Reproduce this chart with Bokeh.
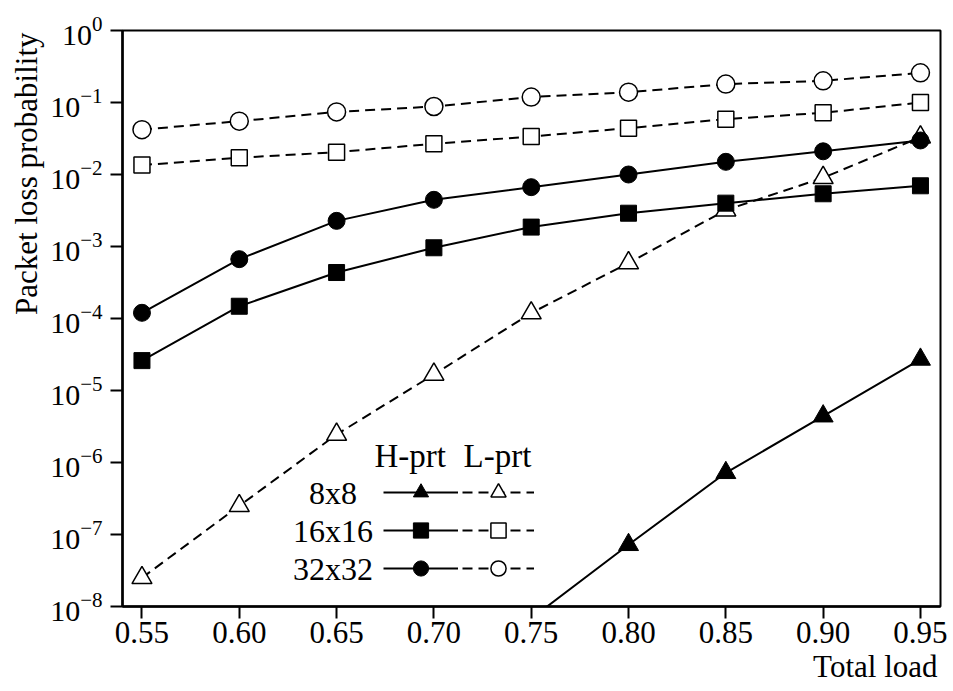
import math
from bokeh.plotting import figure
from bokeh.models import (Range1d, FixedTicker, NumeralTickFormatter, Label,
                          Legend, LegendItem, Title)
from bokeh.core.properties import value
from bokeh.embed import file_html
from bokeh.resources import INLINE

# ---------------- data ----------------
loads = [0.55, 0.60, 0.65, 0.70, 0.75, 0.80, 0.85, 0.90, 0.95]
loads_8x8_h = [0.75, 0.80, 0.85, 0.90, 0.95]

h_8x8 = [6.8e-9, 7.2e-8, 7.2e-7, 4.4e-6, 2.7e-5]
h_16x16 = [2.6e-5, 1.48e-4, 4.35e-4, 9.6e-4, 1.86e-3, 2.9e-3, 4.0e-3, 5.4e-3, 6.97e-3]
h_32x32 = [1.2e-4, 6.67e-4, 2.27e-3, 4.45e-3, 6.67e-3, 1.0e-2, 1.5e-2, 2.1e-2, 2.97e-2]

l_8x8 = [2.5e-8, 2.5e-7, 2.45e-6, 1.67e-5, 1.19e-4, 5.9e-4, 3.2e-3, 9.0e-3, 3.3e-2]
l_16x16 = [0.0135, 0.0171, 0.0204, 0.0267, 0.0337, 0.044, 0.0587, 0.0718, 0.1]
l_32x32 = [0.042, 0.055, 0.074, 0.088, 0.119, 0.139, 0.18, 0.20, 0.258]

x_ticks = [0.55, 0.60, 0.65, 0.70, 0.75, 0.80, 0.85, 0.90, 0.95]
y_ticks = [1e-8, 1e-7, 1e-6, 1e-5, 1e-4, 1e-3, 1e-2, 1e-1, 1.0]

size_labels = ["8x8", "16x16", "32x32"]
header_labels = ["H-prt", "L-prt"]
x_label = "Total load"
y_label = "Packet loss probability"

FONT = "Liberation Serif, Times New Roman, DejaVu Serif, serif"

# ---------------- figure ----------------
p = figure(frame_width=818, frame_height=576,
           x_range=Range1d(0.54, 0.9603), y_range=Range1d(1e-8, 1),
           y_axis_type="log", output_backend="svg", toolbar_location=None,
           min_border_left=122, min_border_top=30, min_border_bottom=85,
           min_border_right=13)
p.background_fill_color = "white"
p.border_fill_color = "white"
p.xgrid.visible = False
p.ygrid.visible = False
p.outline_line_color = "black"
p.outline_line_width = 2

for ax in (p.xaxis[0], p.yaxis[0]):
    ax.axis_line_color = "black"
    ax.axis_line_width = 2.5
    ax.major_tick_line_color = "black"
    ax.major_tick_line_width = 2
    ax.major_tick_out = 12
    ax.major_tick_in = 0
    ax.minor_tick_line_color = None
    ax.major_label_text_font = FONT
    ax.major_label_text_color = "black"

p.xaxis.major_label_text_font_size = "31px"
p.yaxis.major_label_text_font_size = "30px"
p.xaxis.ticker = FixedTicker(ticks=x_ticks)
p.xaxis.formatter = NumeralTickFormatter(format="0.00")
p.xaxis.major_label_standoff = 3
p.yaxis.ticker = FixedTicker(ticks=y_ticks)
p.yaxis.major_label_standoff = 8

# ---------------- series ----------------
dash = "10 6"
open_style = dict(fill_color="white", line_color="black", line_width=1.5)
solid_style = dict(fill_color="black", line_color="black")

# L-prt (dashed, open markers) first so H-prt markers sit on top
rl8 = p.line(loads, l_8x8, line_color="black", line_width=2, line_dash=dash)
sl8 = p.scatter(loads, l_8x8, marker="triangle", size=20, **open_style)
rl16 = p.line(loads, l_16x16, line_color="black", line_width=2, line_dash=dash)
sl16 = p.scatter(loads, l_16x16, marker="square", size=16, **open_style)
rl32 = p.line(loads, l_32x32, line_color="black", line_width=2, line_dash=dash)
sl32 = p.scatter(loads, l_32x32, marker="circle", size=18, **open_style)

rh8 = p.line(loads_8x8_h, h_8x8, line_color="black", line_width=2)
sh8 = p.scatter(loads_8x8_h, h_8x8, marker="triangle", size=20, **solid_style)
rh16 = p.line(loads, h_16x16, line_color="black", line_width=2)
sh16 = p.scatter(loads, h_16x16, marker="square", size=16, **solid_style)
rh32 = p.line(loads, h_32x32, line_color="black", line_width=2)
sh32 = p.scatter(loads, h_32x32, marker="circle", size=17, **solid_style)

# ---------------- legend ----------------
legend_common = dict(spacing=0, padding=0, margin=0, label_standoff=0,
                     label_width=0, label_height=0, glyph_height=38,
                     border_line_color=None, background_fill_alpha=0)
leg_h = Legend(items=[LegendItem(label=value(""), renderers=[rh8, sh8]),
                      LegendItem(label=value(""), renderers=[rh16, sh16]),
                      LegendItem(label=value(""), renderers=[rh32, sh32])],
               location=(261, 19), glyph_width=75, **legend_common)
leg_l = Legend(items=[LegendItem(label=value(""), renderers=[rl8, sl8]),
                      LegendItem(label=value(""), renderers=[rl16, sl16]),
                      LegendItem(label=value(""), renderers=[rl32, sl32])],
               location=(340, 19), glyph_width=72, **legend_common)
p.add_layout(leg_h)
p.add_layout(leg_l)

for i, name in enumerate(size_labels):
    p.add_layout(Label(x=210.5, y=114 - 38 * i, x_units="screen", y_units="screen",
                       text=name, text_align="center", text_baseline="middle",
                       text_font=FONT, text_font_size="32px", text_color="black"))

for i, name in enumerate(header_labels):
    p.add_layout(Label(x=252 + 89 * i, y=151, x_units="screen", y_units="screen",
                       text=name, text_align="left", text_baseline="alphabetic",
                       text_font=FONT, text_font_size="33px", text_color="black"))

# axis titles as side-panel titles
p.add_layout(Title(text=x_label, align="right", offset=3, standoff=3,
                   text_font=FONT, text_font_size="31px",
                   text_font_style="normal", text_color="black"), "below")
p.add_layout(Title(text=y_label, align="right", offset=2, standoff=8,
                   text_font=FONT, text_font_size="31px",
                   text_font_style="normal", text_color="black"), "left")

open("out.html", "w").write(file_html(p, INLINE))
